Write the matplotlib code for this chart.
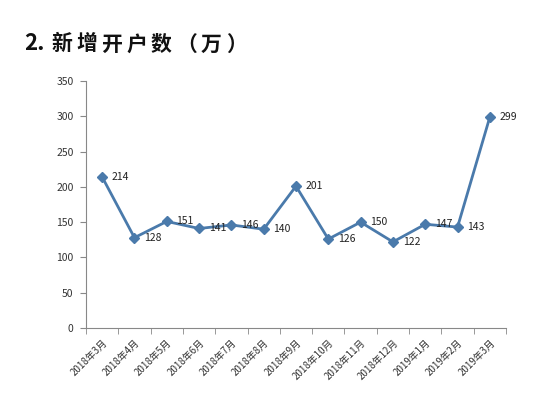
import matplotlib
matplotlib.use("Agg")
import matplotlib.pyplot as plt

plt.rcParams['font.family'] = ['Noto Sans CJK SC', 'DejaVu Sans']

categories = ["2018年3月", "2018年4月", "2018年5月", "2018年6月", "2018年7月",
              "2018年8月", "2018年9月", "2018年10月", "2018年11月", "2018年12月",
              "2019年1月", "2019年2月", "2019年3月"]
values = [214, 128, 151, 141, 146, 140, 201, 126, 150, 122, 147, 143, 299]
yticks = [0, 50, 100, 150, 200, 250, 300, 350]
title_prefix = "2."
title_chars = ["新", "增", "开", "户", "数", "（", "万", "）"]

W, H = 551, 395
fig = plt.figure(figsize=(W / 100, H / 100), dpi=100)
fig.patch.set_facecolor('white')
ax = fig.add_axes([86/W, 1-328/H, (506-86)/W, (328-81)/H])

x = list(range(len(categories)))
color = '#4A7AAB'
ax.plot(x, values, color=color, lw=2.0, marker='D', ms=5, mfc=color, mec=color)
for xi, v in zip(x, values):
    ax.annotate(str(v), (xi, v), xytext=(7, 0), textcoords='offset points',
                ha='left', va='center', fontsize=7.5, color='#222222')

ax.set_xlim(-0.5, len(categories) - 0.5)
ax.set_ylim(0, 350)
ax.set_yticks(yticks)
ax.set_yticklabels([str(t) for t in yticks], fontsize=7.5, color='#333333')
ax.set_xticks(x)
ax.set_xticklabels(categories, rotation=45, ha='right', rotation_mode='anchor',
                   fontsize=7, color='#333333')
ax.tick_params(axis='x', length=0, pad=7)
ax.set_xticks([i - 0.5 for i in range(len(categories) + 1)], minor=True)
ax.tick_params(axis='x', which='minor', length=4, color='#888888', direction='out')
ax.tick_params(axis='y', length=4, color='#888888', direction='out', pad=5)
for s in ['top', 'right']:
    ax.spines[s].set_visible(False)
for s in ['left', 'bottom']:
    ax.spines[s].set_color('#888888')
    ax.spines[s].set_linewidth(0.8)

# Title with wide character spacing
ty = 1 - 44 / H
fig.text(24 / W, ty, title_prefix, fontsize=16, fontweight='bold', va='center',
         ha='left', color='#111111')
for i, ch in enumerate(title_chars):
    fig.text((51 + 25 * i) / W, ty, ch, fontsize=15, fontweight='bold',
             va='center', ha='left', color='#111111')

fig.savefig('out.png', dpi=100, facecolor='white')
